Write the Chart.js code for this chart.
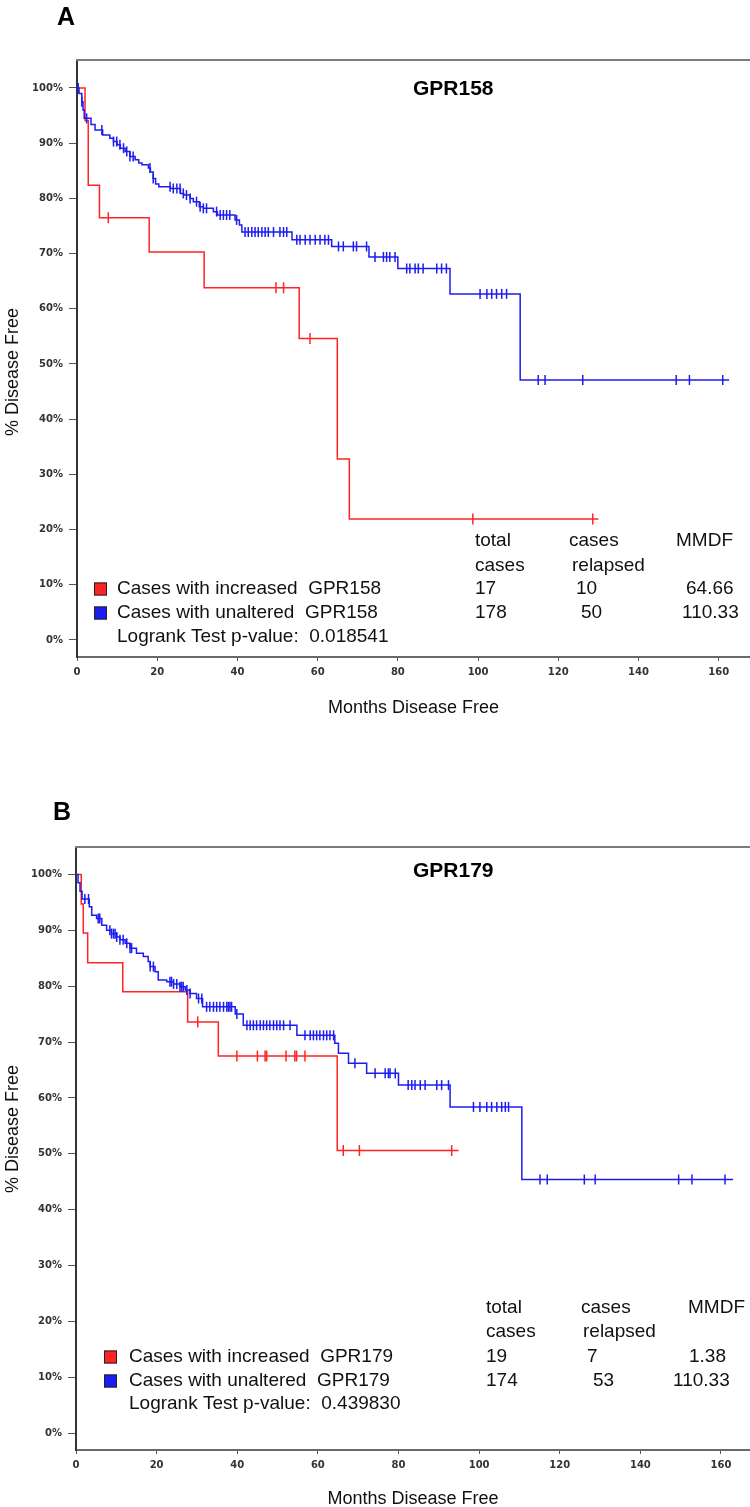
<!DOCTYPE html>
<html>
<head>
<meta charset="utf-8">
<script src="https://cdn.jsdelivr.net/npm/chart.js@4.4.1/dist/chart.umd.min.js"></script>
<style>
  html, body { margin: 0; padding: 0; background: #fff; }
  .panel { position: relative; width: 750px; }
  #panel-a { height: 740px; }
  #panel-b { height: 767px; }
</style>
</head>
<body>
<div class="panel" id="panel-a"><canvas id="chart-a"></canvas></div>
<div class="panel" id="panel-b"><canvas id="chart-b"></canvas></div>
<script>
// ---- ticks / titles
const xTicks = [0, 20, 40, 60, 80, 100, 120, 140, 160];
const yTicks = [0, 10, 20, 30, 40, 50, 60, 70, 80, 90, 100];
const xTitle = "Months Disease Free";
const yTitle = "% Disease Free";
const tableHead = [["total", "cases"], ["cases", "relapsed"], ["MMDF"]];

// ---- panel A: GPR158
const aRedMonths = [0, 2.0, 2.8, 5.6, 18.0, 31.7, 55.4, 64.9, 67.9, 130.0];
const aRedSurv = [100, 94.1, 82.4, 76.5, 70.3, 63.8, 54.6, 32.8, 21.9, 21.9];
const aRedCensor = [7.8, 49.6, 51.5, 58.1, 98.7, 128.6];

const aBlueMonths = [0, 0.5, 1.2, 1.5, 1.8, 3.5, 4.5, 6.4, 8.2, 9.1, 10.0, 10.8, 12.0, 13.2, 14.5,
  15.4, 16.2, 17.8, 18.3, 19.0, 19.6, 20.4, 23.3, 25.8, 26.6, 28.2, 29.0, 30.5, 31.5, 34.0,
  35.0, 39.4, 40.5, 41.1, 53.6, 63.5, 72.8, 80.0, 93.0, 110.5, 162.6];
const aBlueSurv = [100, 99.0, 97.5, 96.0, 94.5, 93.4, 92.4, 91.5, 90.9, 90.3, 89.7, 89.1, 88.5, 87.6, 87.0,
  86.4, 86.1, 85.5, 84.8, 83.6, 82.6, 82.1, 81.8, 80.9, 80.6, 80.0, 79.4, 78.5, 78.2, 77.6,
  77.0, 76.1, 75.2, 73.9, 72.5, 71.3, 69.4, 67.3, 62.7, 47.1, 47.1];
const aBlueCensor = [0.3, 1.2, 2.4, 6.2, 9.1, 9.9, 10.7, 11.6, 12.4, 13.2, 14.0, 18.2, 19.0, 23.2, 24.0,
  24.9, 25.7, 26.5, 27.3, 28.2, 29.8, 30.7, 31.5, 32.3, 34.8, 35.7, 36.5, 37.3, 38.1, 39.8,
  41.9, 42.7, 43.6, 44.4, 45.2, 46.1, 46.9, 47.7, 49.0, 50.6, 51.5, 52.3, 54.8, 55.6, 56.9,
  58.1, 59.4, 60.6, 61.8, 62.7, 65.2, 66.4, 68.9, 69.7, 72.2, 74.3, 76.4, 77.2, 78.0, 79.3,
  82.2, 83.0, 84.3, 85.1, 86.3, 89.7, 90.9, 92.1, 100.5, 102.2, 103.4, 104.6, 105.9, 107.1,
  115.0, 116.7, 126.1, 149.4, 152.7, 161.0];

const aLegend = ["Cases with increased  GPR158", "Cases with unaltered  GPR158"];
const aPValue = "Logrank Test p-value:  0.018541";
const aTotal = ["17", "178"];
const aRelapsed = ["10", "50"];
const aMMDF = ["64.66", "110.33"];

// ---- panel B: GPR179
const bRedMonths = [0, 1.3, 1.8, 2.9, 11.6, 27.7, 35.3, 64.8, 94.9];
const bRedSurv = [100, 94.7, 89.5, 84.2, 79.0, 73.6, 67.5, 50.6, 50.6];
const bRedCensor = [30.2, 39.9, 45.0, 46.9, 47.3, 52.1, 54.3, 54.7, 56.8, 66.3, 70.3, 93.2];

const bBlueMonths = [0, 0.5, 1.0, 1.5, 3.3, 3.9, 5.1, 6.4, 7.6, 8.8, 10.1, 10.9, 12.2, 13.4, 15.0,
  16.7, 17.9, 18.4, 19.6, 20.4, 22.5, 24.2, 25.8, 27.1, 28.3, 29.9, 31.4, 39.5, 41.5, 54.8,
  64.2, 65.1, 67.6, 72.1, 80.0, 92.8, 110.6, 163.0];
const bBlueSurv = [100, 98.5, 97.0, 95.6, 94.2, 92.7, 92.1, 90.9, 90.0, 89.4, 88.8, 88.3, 87.7, 86.8, 85.9,
  85.3, 84.4, 83.5, 82.6, 81.1, 80.8, 80.4, 79.9, 79.3, 78.7, 77.8, 76.3, 75.0, 73.0, 71.2,
  69.8, 68.0, 66.2, 64.4, 62.3, 58.4, 45.4, 45.4];
const bBlueCensor = [2.2, 3.1, 5.5, 5.9, 8.4, 8.8, 9.3, 9.7, 10.1, 10.9, 11.7, 12.6, 13.4, 13.8, 18.4,
  19.2, 23.3, 23.7, 24.2, 25.0, 25.8, 26.2, 26.6, 27.5, 28.3, 30.4, 31.2, 32.4, 33.2, 34.1,
  34.9, 35.7, 36.6, 37.4, 37.8, 38.2, 38.6, 39.9, 42.4, 43.2, 44.0, 44.8, 45.7, 46.5, 47.3,
  48.1, 49.0, 49.8, 50.6, 51.5, 53.1, 56.8, 58.1, 58.9, 59.7, 60.5, 61.4, 62.2, 63.0, 63.9,
  69.2, 74.2, 76.7, 77.5, 77.9, 79.2, 82.4, 83.3, 84.1, 85.4, 86.6, 89.5, 90.7, 92.4, 98.6,
  100.2, 101.9, 103.1, 104.4, 105.6, 106.5, 107.3, 115.1, 116.9, 126.1, 128.8, 149.5, 152.8, 161.0];

const bLegend = ["Cases with increased  GPR179", "Cases with unaltered  GPR179"];
const bPValue = "Logrank Test p-value:  0.439830";
const bTotal = ["19", "174"];
const bRelapsed = ["7", "53"];
const bMMDF = ["1.38", "110.33"];

const RED = "#ff2424";
const BLUE = "#1c1cf0";
const SANS = '"Liberation Sans", Arial, sans-serif';

// survival value at a censoring time (the mark sits on the curve)
function survAt(months, surv, t) {
  let v = surv[0];
  for (let i = 0; i < months.length; i++) {
    if (months[i] <= t) v = surv[i];
  }
  return v;
}

function stepPoints(months, surv) {
  return months.map((m, i) => ({ x: m, y: surv[i] }));
}

function censorPoints(censor, months, surv) {
  return censor.map((t) => ({ x: t, y: survAt(months, surv, t) }));
}

// texts that chart.js has no slot for: panel letter, gene, legend, table
function panelPlugin(cfg) {
  return {
    id: "panelText",
    afterDraw(chart) {
      const { ctx, chartArea } = chart;
      const L = cfg.layout;
      ctx.save();

      // top edge of the box
      ctx.strokeStyle = "#7c7c7c";
      ctx.lineWidth = 2;
      ctx.beginPath();
      ctx.moveTo(chartArea.left - 1, chartArea.top);
      ctx.lineTo(chart.width, chartArea.top);
      ctx.stroke();

      ctx.fillStyle = "#000";
      ctx.textBaseline = "alphabetic";
      ctx.font = `bold 25px ${SANS}`;
      ctx.fillText(cfg.letter, L.letter[0], L.letter[1]);

      ctx.textBaseline = "middle";
      ctx.font = `bold 21px ${SANS}`;
      ctx.fillText(cfg.gene, L.gene[0], L.gene[1]);

      // y title
      ctx.save();
      ctx.translate(L.yTitle[0], L.yTitle[1]);
      ctx.rotate(-Math.PI / 2);
      ctx.textAlign = "center";
      ctx.font = `18px ${SANS}`;
      ctx.fillStyle = "#111";
      ctx.fillText(yTitle, 0, 0);
      ctx.restore();

      // legend
      ctx.font = `19px ${SANS}`;
      const boxColors = [RED, BLUE];
      cfg.legend.forEach((label, i) => {
        const y = L.rowY[i];
        ctx.fillStyle = boxColors[i];
        ctx.fillRect(L.boxX, y - 6.5, 13, 13);
        ctx.strokeStyle = "#222";
        ctx.lineWidth = 1;
        ctx.strokeRect(L.boxX + 0.5, y - 6, 12, 12);
        ctx.fillStyle = "#111";
        ctx.fillText(label, L.textX, y);
      });
      ctx.fillText(cfg.pValue, L.textX, L.rowY[2]);

      // table
      tableHead.forEach((col, c) => {
        col.forEach((txt, r) => ctx.fillText(txt, L.headX[c][r], L.headY[r]));
      });
      [cfg.total, cfg.relapsed, cfg.mmdf].forEach((col, c) => {
        col.forEach((txt, r) => ctx.fillText(txt, L.cellX[r][c], L.rowY[r]));
      });

      ctx.restore();
    }
  };
}

function makeChart(canvasId, cfg) {
  const tickFont = { family: '"DejaVu Sans", sans-serif', size: 10, weight: "bold" };
  return new Chart(document.getElementById(canvasId), {
    type: "scatter",
    data: {
      datasets: [
        {
          data: stepPoints(cfg.blueMonths, cfg.blueSurv),
          showLine: true,
          stepped: "before",
          borderColor: BLUE,
          borderWidth: 1.5,
          pointRadius: 0,
          order: 1
        },
        {
          data: censorPoints(cfg.blueCensor, cfg.blueMonths, cfg.blueSurv),
          showLine: false,
          pointStyle: "line",
          rotation: 90,
          pointRadius: 5,
          borderColor: BLUE,
          borderWidth: 1.5,
          order: 1
        },
        {
          data: stepPoints(cfg.redMonths, cfg.redSurv),
          showLine: true,
          stepped: "before",
          borderColor: RED,
          borderWidth: 1.5,
          pointRadius: 0,
          order: 2
        },
        {
          data: censorPoints(cfg.redCensor, cfg.redMonths, cfg.redSurv),
          showLine: false,
          pointStyle: "line",
          rotation: 90,
          pointRadius: 5.5,
          borderColor: RED,
          borderWidth: 1.5,
          order: 2
        }
      ]
    },
    options: {
      responsive: true,
      maintainAspectRatio: false,
      animation: false,
      devicePixelRatio: 1,
      layout: {
        autoPadding: false,
        padding: { top: cfg.layout.top, left: 0, right: 0, bottom: 0 }
      },
      plugins: {
        legend: { display: false },
        tooltip: { enabled: false }
      },
      scales: {
        x: {
          type: "linear",
          min: 0,
          max: cfg.layout.xMax,
          afterBuildTicks: (s) => { s.ticks = xTicks.map((v) => ({ value: v })); },
          afterFit: (s) => {
            s.height = cfg.layout.xHeight;
            s.paddingLeft = 0;
            s.paddingRight = 0;
          },
          ticks: { font: tickFont, color: "#333", padding: 5, maxRotation: 0, autoSkip: false },
          grid: { display: true, drawOnChartArea: false, drawTicks: true, tickLength: 4, color: "#555" },
          border: { display: true, color: "#6a6a6a", width: 2 },
          title: {
            display: true,
            text: xTitle,
            color: "#111",
            font: { family: SANS, size: 18 },
            padding: { top: 0, bottom: cfg.layout.xTitlePad }
          }
        },
        y: {
          type: "linear",
          min: cfg.layout.yMin,
          max: cfg.layout.yMax,
          afterBuildTicks: (s) => { s.ticks = yTicks.map((v) => ({ value: v })); },
          afterFit: (s) => {
            s.width = cfg.layout.yWidth;
            s.paddingTop = 0;
            s.paddingBottom = 0;
          },
          ticks: { font: tickFont, color: "#333", padding: 6, callback: (v) => `${v}%` },
          grid: { display: true, drawOnChartArea: false, drawTicks: true, tickLength: 8, color: "#555" },
          border: { display: true, color: "#333", width: 2 }
        }
      }
    },
    plugins: [panelPlugin(cfg)]
  });
}

makeChart("chart-a", {
  letter: "A", gene: "GPR158",
  redMonths: aRedMonths, redSurv: aRedSurv, redCensor: aRedCensor,
  blueMonths: aBlueMonths, blueSurv: aBlueSurv, blueCensor: aBlueCensor,
  legend: aLegend, pValue: aPValue, total: aTotal, relapsed: aRelapsed, mmdf: aMMDF,
  layout: {
    top: 60, xHeight: 83, yWidth: 77, xTitlePad: 21, xMax: 167.8, yMin: -3.08, yMax: 105.07,
    letter: [57, 25], gene: [413, 89], yTitle: [13, 372],
    boxX: 94, textX: 117, rowY: [589, 613, 637],
    headY: [541, 566], headX: [[475, 475], [569, 572], [676]],
    cellX: [[475, 576, 686], [475, 581, 682]]
  }
});

makeChart("chart-b", {
  letter: "B", gene: "GPR179",
  redMonths: bRedMonths, redSurv: bRedSurv, redCensor: bRedCensor,
  blueMonths: bBlueMonths, blueSurv: bBlueSurv, blueCensor: bBlueCensor,
  legend: bLegend, pValue: bPValue, total: bTotal, relapsed: bRelapsed, mmdf: bMMDF,
  layout: {
    top: 107, xHeight: 57, yWidth: 76, xTitlePad: -3, xMax: 167.2, yMin: -2.99, yMax: 104.9,
    letter: [53, 80], gene: [413, 131], yTitle: [13, 389],
    boxX: 104, textX: 129, rowY: [617, 641, 664],
    headY: [568, 592], headX: [[486, 486], [581, 583], [688]],
    cellX: [[486, 587, 689], [486, 593, 673]]
  }
});
</script>
</body>
</html>
